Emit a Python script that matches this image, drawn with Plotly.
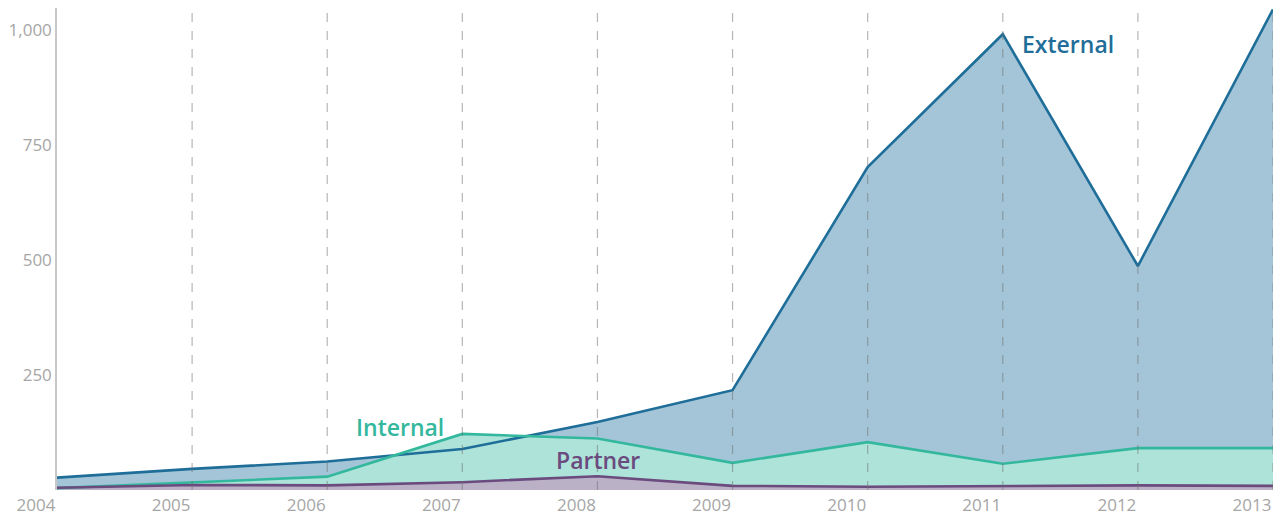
import plotly.graph_objects as go

years = [2004, 2005, 2006, 2007, 2008, 2009, 2010, 2011, 2012, 2013]
external = [27, 46, 62, 89, 148, 217, 702, 991, 487, 1045]
internal = [4, 16, 29, 122, 112, 59, 104, 57, 91, 91]
partner = [5, 11, 10, 17, 30, 9, 7, 9, 10, 9]
y_ticks = [250, 500, 750, 1000]

series = [
    # name, values, line colour, fill colour, label position
    ("External", external, "#1f6e99", "#a3c5d7", (2011.13, 970)),
    ("Internal", internal, "#33b89e", "#ade3d9", (2006.2, 137)),
    ("Partner", partner, "#6b4a7e", "#bab1c6", (2007.68, 65)),
]

fig = go.Figure()

# fills first so every line sits above every fill
for name, vals, line_col, fill_col, _ in series:
    fig.add_trace(go.Scatter(
        x=years, y=vals, mode="lines", fill="tozeroy",
        fillcolor=fill_col, line=dict(width=0, color=fill_col),
        hoverinfo="skip", showlegend=False
    ))

for name, vals, line_col, fill_col, _ in series:
    fig.add_trace(go.Scatter(
        x=years, y=vals, mode="lines", name=name,
        line=dict(width=2.6, color=line_col),
        showlegend=False
    ))

# series labels
for name, vals, line_col, fill_col, (lx, ly) in series:
    fig.add_annotation(
        x=lx, y=ly, text=name, showarrow=False, xanchor="left", yanchor="middle",
        font=dict(family="Open Sans", size=23, color=line_col, weight=600)
    )

# dashed vertical gridlines drawn over the fills
for yr in years[1:]:
    fig.add_shape(
        type="line", xref="x", yref="paper", x0=yr, x1=yr, y0=0, y1=1,
        line=dict(color="rgba(110,110,110,0.5)", width=1.2, dash="dash"),
        layer="above"
    )

# the page body has an 8px margin, so the figure is shrunk by that much
fig.update_layout(
    width=1275, height=510,
    margin=dict(l=49, r=10, t=0, b=28),
    plot_bgcolor="white", paper_bgcolor="white",
    font=dict(family="Open Sans", color="#a6a6a6", size=17),
    xaxis=dict(
        range=[2004, 2013], tickvals=years, ticktext=[str(y) for y in years],
        showgrid=False, zeroline=False, showline=False, ticks="",
        ticklabelshift=-21, ticklabelstandoff=3, automargin=False,
        tickfont=dict(size=17, color="#a6a6a6")
    ),
    yaxis=dict(
        range=[0, 1048], tickvals=y_ticks, tickformat=",",
        showgrid=False, zeroline=False, showline=True, linecolor="#c8c8c8",
        linewidth=1.5, ticks="", ticklabelstandoff=0, automargin=False,
        tickfont=dict(size=17, color="#a6a6a6")
    ),
)

fig.write_html("out.html")
